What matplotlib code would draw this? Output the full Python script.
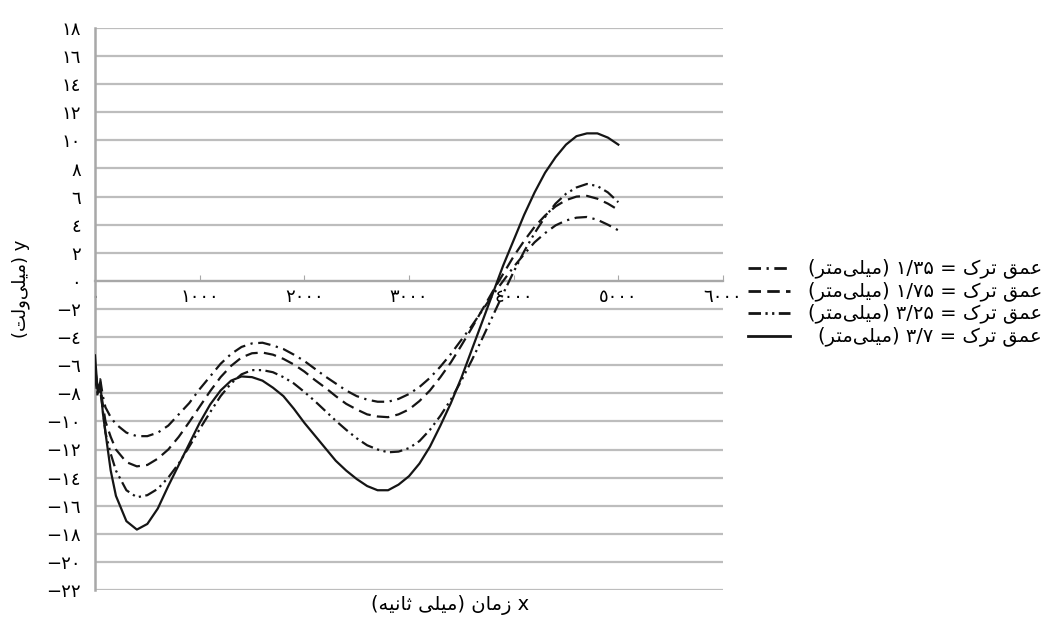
import matplotlib
matplotlib.use('Agg')
import matplotlib.pyplot as plt
from matplotlib.lines import Line2D

plt.rcParams['font.family'] = ['DejaVu Sans']
plt.rcParams['lines.scale_dashes'] = False

# ---------------- data ----------------
time_ms = [0, 25, 50, 75, 100, 150, 200, 300, 400, 500, 600, 700, 800, 900, 1000,
           1100, 1200, 1300, 1400, 1500, 1600, 1700, 1800, 1900, 2000, 2100, 2200,
           2300, 2400, 2500, 2600, 2700, 2800, 2900, 3000, 3100, 3200, 3300, 3400,
           3500, 3600, 3700, 3800, 3900, 4000, 4100, 4200, 4300, 4400, 4500, 4600,
           4700, 4800, 4900, 5000]

depth_1_35 = [-6.2, -7.5, -7.0, -8.2, -9.0, -9.7, -10.2, -10.8, -11.05, -11.05, -10.8,
              -10.3, -9.5, -8.7, -7.7, -6.8, -5.9, -5.2, -4.7, -4.45, -4.4, -4.6, -4.85,
              -5.25, -5.7, -6.25, -6.8, -7.3, -7.8, -8.2, -8.45, -8.6, -8.6, -8.4, -8.05,
              -7.55, -6.9, -6.1, -5.2, -4.2, -3.2, -2.1, -1.0, 0.0, 1.0, 1.9, 2.75, 3.4,
              3.95, 4.3, 4.5, 4.55, 4.35, 4.0, 3.6]

depth_1_75 = [-6.5, -8.0, -7.5, -8.8, -10.0, -11.1, -12.0, -12.9, -13.2, -13.1, -12.65,
              -12.0, -11.1, -10.05, -8.95, -7.85, -6.85, -6.05, -5.45, -5.15, -5.1, -5.25,
              -5.55, -5.95, -6.45, -7.05, -7.6, -8.2, -8.75, -9.15, -9.5, -9.65, -9.7,
              -9.5, -9.15, -8.55, -7.8, -6.85, -5.8, -4.6, -3.35, -2.05, -0.75, 0.5, 1.75,
              2.85, 3.85, 4.65, 5.3, 5.75, 6.0, 6.05, 5.85, 5.5, 5.05]

depth_3_25 = [-6.8, -8.2, -7.8, -9.2, -10.8, -12.3, -13.5, -14.9, -15.4, -15.25, -14.8,
              -14.0, -13.0, -11.8, -10.55, -9.35, -8.2, -7.3, -6.65, -6.35, -6.35, -6.5,
              -6.85, -7.3, -7.9, -8.55, -9.25, -9.95, -10.6, -11.2, -11.7, -12.0, -12.2,
              -12.15, -11.9, -11.4, -10.6, -9.6, -8.45, -7.1, -5.65, -4.1, -2.5, -0.9,
              0.65, 2.1, 3.4, 4.55, 5.5, 6.2, 6.65, 6.9, 6.75, 6.3, 5.6]

depth_3_7 = [-5.3, -7.8, -7.2, -9.4, -10.8, -13.5, -15.3, -17.1, -17.7, -17.3, -16.2,
             -14.6, -13.1, -11.6, -10.1, -8.8, -7.8, -7.1, -6.8, -6.85, -7.1, -7.6, -8.2,
             -9.1, -10.1, -11.0, -11.9, -12.8, -13.5, -14.1, -14.6, -14.9, -14.9, -14.5,
             -13.9, -13.0, -11.8, -10.3, -8.7, -6.9, -4.9, -2.9, -0.9, 1.1, 2.9, 4.7,
             6.3, 7.7, 8.8, 9.7, 10.3, 10.5, 10.5, 10.2, 9.7]

series_labels = ['عمق ترک = ۱/۳۵ (میلی‌متر)',
                 'عمق ترک = ۱/۷۵ (میلی‌متر)',
                 'عمق ترک = ۳/۲۵ (میلی‌متر)',
                 'عمق ترک = ۳/۷ (میلی‌متر)']
y_ticks = list(range(-22, 19, 2))
x_ticks = list(range(0, 6001, 1000))
x_title = 'x زمان (میلی ثانیه)'
y_title = 'y (میلی‌ولت)'

# ---------------- Arabic shaping helpers ----------------
FORMS = {  # isolated, final, initial, medial
    'ا': ('\uFE8D', '\uFE8E', None, None),
    'ت': ('\uFE95', '\uFE96', '\uFE97', '\uFE98'),
    'ث': ('\uFE99', '\uFE9A', '\uFE9B', '\uFE9C'),
    'ر': ('\uFEAD', '\uFEAE', None, None),
    'ز': ('\uFEAF', '\uFEB0', None, None),
    'ع': ('\uFEC9', '\uFECA', '\uFECB', '\uFECC'),
    'ق': ('\uFED5', '\uFED6', '\uFED7', '\uFED8'),
    'ل': ('\uFEDD', '\uFEDE', '\uFEDF', '\uFEE0'),
    'م': ('\uFEE1', '\uFEE2', '\uFEE3', '\uFEE4'),
    'ن': ('\uFEE5', '\uFEE6', '\uFEE7', '\uFEE8'),
    'ه': ('\uFEE9', '\uFEEA', '\uFEEB', '\uFEEC'),
    'و': ('\uFEED', '\uFEEE', None, None),
    'ک': ('\uFB8E', '\uFB8F', '\uFB90', '\uFB91'),
    'ی': ('\uFBFC', '\uFBFD', '\uFBFE', '\uFBFF'),
}


def shape(s):
    out = []
    for i, c in enumerate(s):
        if c not in FORMS:
            out.append(c)
            continue
        prev = s[i - 1] if i > 0 else ''
        nxt = s[i + 1] if i + 1 < len(s) else ''
        f = FORMS[c]
        jp = prev in FORMS and FORMS[prev][2] is not None
        jn = f[2] is not None and nxt in FORMS
        if jp and jn:
            out.append(f[3])
        elif jp:
            out.append(f[1])
        elif jn:
            out.append(f[2])
        else:
            out.append(f[0])
    return ''.join(out).replace('\u200c', '')


def is_ltr(c):
    return (c.isascii() and c.isalnum()) or ('\u0660' <= c <= '\u0669') or ('\u06f0' <= c <= '\u06f9')


def rtl(s):
    s = shape(s)
    tokens, i = [], 0
    while i < len(s):
        if is_ltr(s[i]):
            j = i
            while j < len(s) and (is_ltr(s[j]) or (s[j] in '/.' and j + 1 < len(s) and is_ltr(s[j + 1]))):
                j += 1
            tokens.append(s[i:j])
            i = j
        else:
            tokens.append(s[i])
            i += 1
    mirror = {'(': ')', ')': '('}
    return ''.join(mirror.get(t, t) for t in reversed(tokens))


AR_DIGITS = '٠١٢٣٤٥٦٧٨٩'


def ar_num(n):
    s = ''.join(AR_DIGITS[int(d)] for d in str(abs(n)))
    return '−' + s if n < 0 else s


# ---------------- figure ----------------
W, H = 1050, 622
fig = plt.figure(figsize=(W / 100, H / 100), dpi=100)
ax = fig.add_axes([95 / W, 32 / H, 628 / W, 562 / H])

grid_c = '#bdbdbd'
line_styles = [(0, (9, 4, 1.6, 4)),
               (0, (9, 4.5)),
               (0, (9, 3.2, 1.6, 3.2, 1.6, 3.2)),
               '-']
all_series = [depth_1_35, depth_1_75, depth_3_25, depth_3_7]
for ys, ls, lab in zip(all_series, line_styles, series_labels):
    ax.plot(time_ms, ys, color='#151515', lw=1.6, ls=ls, label=lab, zorder=3)

ax.set_xlim(0, 6000)
ax.set_ylim(-22, 18)
ax.set_yticks(y_ticks)
ax.set_yticklabels([ar_num(v) for v in y_ticks])
ax.set_xticks(x_ticks)
ax.set_xticklabels([ar_num(v) for v in x_ticks])
ax.yaxis.grid(True, color=grid_c, lw=1.6)
ax.set_axisbelow(True)
for sp in ['top', 'right']:
    ax.spines[sp].set_visible(False)
ax.spines['left'].set_color('#a8a8a8')
ax.spines['left'].set_linewidth(1.8)
ax.spines['bottom'].set_position(('data', 0))
ax.spines['bottom'].set_color('#a8a8a8')
ax.spines['bottom'].set_linewidth(1.6)
ax.tick_params(axis='y', length=0, pad=10, labelsize=13)
ax.tick_params(axis='x', direction='in', length=4, color='#a8a8a8', pad=5, labelsize=13)

# axis titles
fig.text(450 / W, 1 - 605 / H, rtl(x_title), ha='center', va='center', fontsize=14)
fig.text(21 / W, 1 - 289 / H, rtl(y_title), ha='center', va='center', fontsize=13, rotation=90)

# legend (manual, right-aligned RTL text)
rows_y = [268, 291, 313, 336]
for ls, lab, ry in zip(line_styles, series_labels, rows_y):
    yy = 1 - ry / H
    h = Line2D([748 / W, 790 / W], [yy, yy], transform=fig.transFigure,
               color='#151515', lw=2.0, ls=ls)
    fig.add_artist(h)
    fig.text(1042 / W, yy, rtl(lab), ha='right', va='center', fontsize=14)

fig.savefig('out.png', dpi=100)
